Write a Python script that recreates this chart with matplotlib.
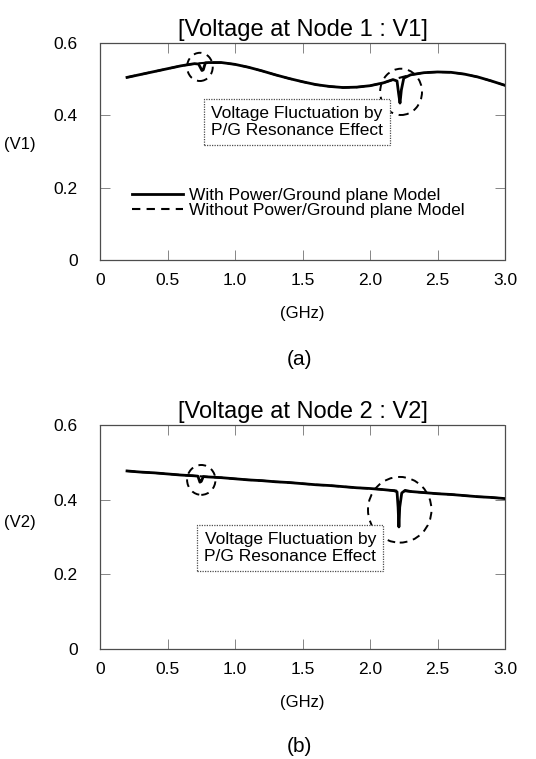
import matplotlib
matplotlib.use("Agg")
import matplotlib.pyplot as plt
from matplotlib.patches import Ellipse
import numpy as np

plt.rcParams['font.family'] = ['Liberation Sans', 'DejaVu Sans']

# frequency grid (GHz) of the simulated sweep
freq = [0.2, 0.3, 0.4, 0.5, 0.6, 0.7, 0.8, 0.9, 1.0, 1.1, 1.2, 1.3, 1.4, 1.5,
        1.6, 1.7, 1.8, 1.9, 2.0, 2.1, 2.2, 2.3, 2.4, 2.5, 2.6, 2.7, 2.8, 2.9, 3.0]

# node 1 voltage without the power/ground plane model
v1_without = [0.505, 0.513, 0.521, 0.529, 0.537, 0.543, 0.546, 0.546, 0.541, 0.533,
              0.523, 0.512, 0.502, 0.493, 0.485, 0.480, 0.477, 0.478, 0.482, 0.490,
              0.502, 0.512, 0.518, 0.520, 0.519, 0.514, 0.506, 0.495, 0.483]

# node 1 voltage with the power/ground plane model (resonance notches)
freq_v1_with = [0.2, 0.3, 0.4, 0.5, 0.6, 0.7, 0.73, 0.755, 0.765, 0.78, 0.8, 0.9, 1.0,
                1.1, 1.2, 1.3, 1.4, 1.5, 1.6, 1.7, 1.8, 1.9, 2.0, 2.1, 2.17, 2.2,
                2.212, 2.222, 2.232, 2.25, 2.3, 2.4, 2.5, 2.6, 2.7, 2.8, 2.9, 3.0]
v1_with = [0.505, 0.513, 0.521, 0.529, 0.537, 0.543, 0.542, 0.524, 0.526, 0.545, 0.546,
           0.546, 0.541, 0.533, 0.523, 0.512, 0.502, 0.493, 0.485, 0.480, 0.477, 0.478,
           0.482, 0.490, 0.499, 0.495, 0.460, 0.434, 0.470, 0.503, 0.512, 0.518, 0.520,
           0.519, 0.514, 0.506, 0.495, 0.483]

# node 2 voltage without the power/ground plane model
v2_without = [0.477, 0.474, 0.472, 0.469, 0.466, 0.464, 0.461, 0.459, 0.456, 0.453,
              0.451, 0.448, 0.446, 0.443, 0.440, 0.438, 0.435, 0.432, 0.430, 0.427,
              0.424, 0.422, 0.419, 0.416, 0.414, 0.411, 0.408, 0.406, 0.403]

# node 2 voltage with the power/ground plane model
freq_v2_with = [0.2, 0.3, 0.4, 0.5, 0.6, 0.7, 0.725, 0.74, 0.75, 0.765, 0.8, 0.9, 1.0,
                1.1, 1.2, 1.3, 1.4, 1.5, 1.6, 1.7, 1.8, 1.9, 2.0, 2.1, 2.18, 2.2,
                2.208, 2.214, 2.22, 2.235, 2.26, 2.3, 2.4, 2.5, 2.6, 2.7, 2.8, 2.9, 3.0]
v2_with = [0.477, 0.474, 0.472, 0.469, 0.466, 0.464, 0.463, 0.447, 0.449, 0.462, 0.461,
           0.459, 0.456, 0.453, 0.451, 0.448, 0.446, 0.443, 0.440, 0.438, 0.435, 0.432,
           0.430, 0.427, 0.424, 0.421, 0.380, 0.327, 0.380, 0.418, 0.425, 0.422, 0.419,
           0.416, 0.414, 0.411, 0.408, 0.406, 0.403]

xticks = [0, 0.5, 1.0, 1.5, 2.0, 2.5, 3.0]
xtick_labels = ['0', '0.5', '1.0', '1.5', '2.0', '2.5', '3.0']
yticks = [0, 0.2, 0.4, 0.6]
ytick_labels = ['0', '0.2', '0.4', '0.6']

note = 'Voltage Fluctuation by\nP/G Resonance Effect'


def style_axes(ax):
    ax.set_xlim(0, 3.0)
    ax.set_ylim(0, 0.6)
    ax.set_xticks(xticks)
    ax.set_xticklabels(xtick_labels)
    ax.set_yticks(yticks)
    ax.set_yticklabels(ytick_labels)
    ax.tick_params(direction='in', length=7, width=0.6, color='0.45',
                   top=True, right=True, labelsize=12.5)
    ax.tick_params(axis='y', pad=16)
    ax.tick_params(axis='x', pad=9)
    for spine in ax.spines.values():
        spine.set_linestyle((0, (1, 1)))
        spine.set_linewidth(0.9)
        spine.set_color('0.3')


def ring(ax, x, y, w, h):
    ax.add_patch(Ellipse((x, y), w, h, fill=False, ec='black', lw=1.4,
                         ls=(0, (4, 3))))


fig = plt.figure(figsize=(5.36, 7.59), dpi=100)

# ---- (a) node 1
ax1 = fig.add_axes([0.1866, 0.6574, 0.7556, 0.2859])
ax1.plot(freq, v1_without, color='black', lw=1.5, ls=(0, (4, 3)),
         label='Without Power/Ground plane Model', zorder=2)
ax1.plot(freq_v1_with, v1_with, color='black', lw=2.0,
         label='With Power/Ground plane Model', zorder=3)
style_axes(ax1)
ring(ax1, 0.74, 0.534, 0.19, 0.078)
ring(ax1, 2.23, 0.465, 0.31, 0.128)
ax1.text(1.46, 0.382, note, ha='center', va='center', fontsize=12.5, linespacing=1.2,
         bbox=dict(boxstyle='square,pad=0.4', fc='white', ec='0.3', lw=0.9, ls=(0, (1, 1))))
handles, labels = ax1.get_legend_handles_labels()
ax1.legend(handles[::-1], labels[::-1], loc='upper left', bbox_to_anchor=(0.08, 0.332),
           frameon=False, fontsize=12.5, handlelength=2.9, handletextpad=0.35,
           labelspacing=0.0, borderpad=0, borderaxespad=0)
ax1.set_title('[Voltage at Node 1 : V1]', fontsize=17, pad=5)
ax1.set_xlabel('(GHz)', fontsize=12, labelpad=13)
fig.text(20 / 536, 1 - 145 / 759, '(V1)', fontsize=12, ha='center', va='center')
fig.text(299 / 536, 1 - 360 / 759, '(a)', fontsize=15, ha='center', va='center')

# ---- (b) node 2
ax2 = fig.add_axes([0.1866, 0.1449, 0.7556, 0.2951])
ax2.plot(freq, v2_without, color='black', lw=1.5, ls=(0, (4, 3)), zorder=2)
ax2.plot(freq_v2_with, v2_with, color='black', lw=2.0, zorder=3)
style_axes(ax2)
ring(ax2, 0.75, 0.453, 0.21, 0.080)
ring(ax2, 2.22, 0.373, 0.47, 0.176)
ax2.text(1.41, 0.271, note, ha='center', va='center', fontsize=12.5, linespacing=1.2,
         bbox=dict(boxstyle='square,pad=0.4', fc='white', ec='0.3', lw=0.9, ls=(0, (1, 1))))
ax2.set_title('[Voltage at Node 2 : V2]', fontsize=17, pad=5)
ax2.set_xlabel('(GHz)', fontsize=12, labelpad=13)
fig.text(20 / 536, 1 - 523 / 759, '(V2)', fontsize=12, ha='center', va='center')
fig.text(299 / 536, 1 - 746 / 759, '(b)', fontsize=15, ha='center', va='center')

fig.savefig('out.png', dpi=100)
